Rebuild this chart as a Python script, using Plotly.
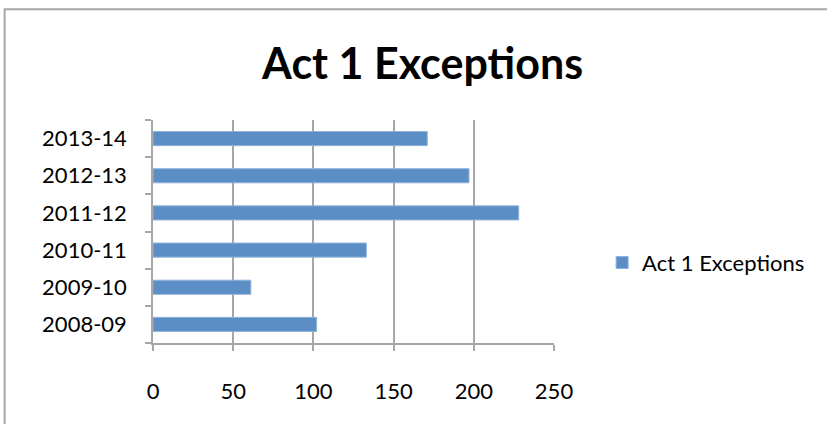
import plotly.graph_objects as go

years = ["2008-09", "2009-10", "2010-11", "2011-12", "2012-13", "2013-14"]
exceptions = [102, 61, 133, 228, 197, 171]
series_name = "Act 1 Exceptions"
x_ticks = [0, 50, 100, 150, 200, 250]

font_family = "Lato, 'Open Sans', sans-serif"

fig = go.Figure()
fig.add_trace(go.Bar(
    y=years, x=exceptions, orientation="h", name=series_name,
    marker=dict(color="#5B8EC4", line=dict(color="#8FB3DC", width=1)),
    showlegend=True,
))

fig.update_layout(
    width=827, height=424,
    margin=dict(l=153, r=273, t=120, b=81),
    paper_bgcolor="white", plot_bgcolor="white",
    title=dict(text="<b>Act 1 Exceptions</b>", x=0.511, xanchor="center",
               y=0.85, yanchor="middle",
               font=dict(family=font_family, size=43, color="black")),
    bargap=0.62,
    showlegend=True,
    legend=dict(x=1.12, xanchor="left", y=0.36, yanchor="middle",
                font=dict(family=font_family, size=22, color="black"),
                itemwidth=30, bgcolor="rgba(0,0,0,0)"),
    font=dict(family=font_family, size=22, color="black"),
)

fig.update_xaxes(
    range=[0, 250], tickvals=x_ticks, ticktext=[str(v) for v in x_ticks],
    showgrid=True, gridcolor="#A6A6A6", gridwidth=1.5,
    showline=True, linecolor="#A6A6A6", linewidth=1.5,
    ticks="outside", ticklen=6, tickcolor="#A6A6A6", tickwidth=1.5,
    ticklabelstandoff=22, zeroline=False,
    tickfont=dict(family=font_family, size=22, color="black"),
)
fig.update_yaxes(
    type="category", categoryorder="array", categoryarray=years,
    showgrid=False, showline=True, linecolor="#A6A6A6", linewidth=1.5,
    ticks="outside", tickson="boundaries", ticklen=6, tickcolor="#A6A6A6", tickwidth=1.5,
    ticklabelstandoff=20,
    tickfont=dict(family=font_family, size=22, color="black"),
)

# chart outer border (Excel chart area)
fig.add_shape(type="rect", xref="paper", yref="paper",
              x0=-0.37, x1=1.8, y0=-0.5, y1=1.497,
              line=dict(color="#A6A6A6", width=2), fillcolor="rgba(0,0,0,0)", layer="below")

fig.write_html("out.html")
